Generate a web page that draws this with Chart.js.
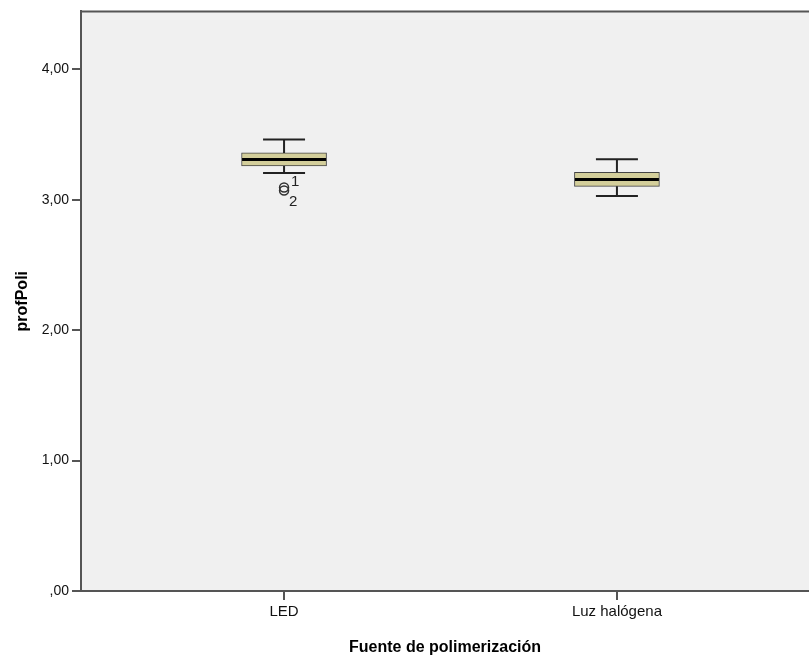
<!DOCTYPE html>
<html>
<head>
<meta charset="utf-8">
<script src="https://cdn.jsdelivr.net/npm/chart.js@4/dist/chart.umd.min.js"></script>
<style>
  html, body { margin: 0; padding: 0; background: #fff; overflow: hidden; }
  #wrap { width: 809px; height: 659px; }
</style>
</head>
<body>
<div id="wrap"><canvas id="box"></canvas></div>
<script>
// profPoli por fuente de polimerización
const groups = ['LED', 'Luz halógena'];
const whiskerLow = [3.205, 3.029];
const q1 = [3.259, 3.103];
const median = [3.308, 3.155];
const q3 = [3.359, 3.211];
const whiskerHigh = [3.461, 3.310];
const outlierGroup = [0, 0];
const outlierValue = [3.094, 3.071];
const outlierId = ['1', '2'];
const yTicks = [0, 1, 2, 3, 4];

const fmt = v => v === 0 ? ',00' : v.toFixed(2).replace('.', ',');

const boxPlugin = {
  id: 'boxParts',
  beforeDraw(chart) {
    const { ctx, chartArea: a } = chart;
    ctx.save();
    ctx.fillStyle = '#f0f0f0';
    ctx.fillRect(a.left, a.top, a.right - a.left, a.bottom - a.top);
    ctx.strokeStyle = '#555';
    ctx.lineWidth = 2;
    ctx.beginPath();
    ctx.moveTo(a.left, a.top);
    ctx.lineTo(a.right, a.top);
    ctx.stroke();
    ctx.restore();
  },
  afterDatasetsDraw(chart) {
    const { ctx } = chart;
    const xs = chart.scales.x, ys = chart.scales.y;
    ctx.save();
    groups.forEach((g, i) => {
      const cx = xs.getPixelForValue(i);
      const cap = 21;
      ctx.strokeStyle = '#222';
      ctx.lineWidth = 2;
      ctx.beginPath();
      ctx.moveTo(cx, ys.getPixelForValue(q3[i]));
      ctx.lineTo(cx, ys.getPixelForValue(whiskerHigh[i]));
      ctx.moveTo(cx - cap, ys.getPixelForValue(whiskerHigh[i]));
      ctx.lineTo(cx + cap, ys.getPixelForValue(whiskerHigh[i]));
      ctx.moveTo(cx, ys.getPixelForValue(q1[i]));
      ctx.lineTo(cx, ys.getPixelForValue(whiskerLow[i]));
      ctx.moveTo(cx - cap, ys.getPixelForValue(whiskerLow[i]));
      ctx.lineTo(cx + cap, ys.getPixelForValue(whiskerLow[i]));
      ctx.stroke();
      // median
      ctx.strokeStyle = '#000';
      ctx.lineWidth = 3;
      ctx.beginPath();
      ctx.moveTo(cx - 42, ys.getPixelForValue(median[i]));
      ctx.lineTo(cx + 42, ys.getPixelForValue(median[i]));
      ctx.stroke();
    });
    // outlier case numbers
    ctx.fillStyle = '#222';
    ctx.font = '15px "Liberation Sans", Arial, sans-serif';
    ctx.textAlign = 'center';
    ctx.textBaseline = 'middle';
    const offs = [[11, -6], [9, 11]];
    outlierValue.forEach((v, k) => {
      const px = xs.getPixelForValue(outlierGroup[k]);
      const py = ys.getPixelForValue(v);
      ctx.fillText(outlierId[k], px + offs[k][0], py + offs[k][1]);
    });
    ctx.restore();
  }
};

new Chart(document.getElementById('box'), {
  data: {
    datasets: [{
      type: 'bar',
      data: groups.map((g, i) => ({ x: i, y: [q1[i], q3[i]] })),
      backgroundColor: '#d3ce9a',
      borderColor: '#444',
      borderWidth: 1,
      borderSkipped: false,
      barThickness: 85
    }, {
      type: 'scatter',
      data: outlierValue.map((v, k) => ({ x: outlierGroup[k], y: v })),
      pointStyle: 'circle',
      pointRadius: 4.5,
      backgroundColor: 'rgba(0,0,0,0)',
      borderColor: '#333',
      borderWidth: 1.5
    }]
  },
  options: {
    responsive: true,
    maintainAspectRatio: false,
    animation: false,
    layout: { autoPadding: false, padding: { top: 11, right: 0, left: 0, bottom: 0 } },
    plugins: { legend: { display: false }, tooltip: { enabled: false } },
    scales: {
      x: {
        type: 'linear',
        offset: false,
        min: -0.61,
        max: 1.577,
        afterBuildTicks: s => { s.ticks = groups.map((g, i) => ({ value: i })); },
        afterFit: s => { s.height = 68; s.paddingLeft = 0; s.paddingRight = 0; },
        ticks: {
          callback: v => groups[v],
          color: '#111',
          font: { size: 15, family: '"Liberation Sans", Arial, sans-serif' },
          padding: 3,
          maxRotation: 0
        },
        grid: { offset: false, drawOnChartArea: false, drawTicks: true, tickLength: 9, color: '#555', lineWidth: 2 },
        border: { color: '#555', width: 2 },
        title: {
          display: true,
          text: 'Fuente de polimerización',
          color: '#000',
          font: { size: 16, weight: 'bold', family: '"Liberation Sans", Arial, sans-serif' },
          padding: { top: 0, bottom: 2 }
        }
      },
      y: {
        min: 0,
        max: 4.444,
        afterBuildTicks: s => { s.ticks = yTicks.map(v => ({ value: v })); },
        afterFit: s => { s.width = 81; },
        ticks: {
          callback: v => fmt(v),
          color: '#111',
          font: { size: 14, family: '"Liberation Sans", Arial, sans-serif' },
          padding: 3
        },
        grid: { drawOnChartArea: false, drawTicks: true, tickLength: 9, color: '#555', lineWidth: 2 },
        border: { color: '#555', width: 2 },
        title: {
          display: true,
          text: 'profPoli',
          color: '#000',
          font: { size: 16, weight: 'bold', family: '"Liberation Sans", Arial, sans-serif' },
          padding: { top: 13, bottom: 0 }
        }
      }
    }
  },
  plugins: [boxPlugin]
});
</script>
</body>
</html>
